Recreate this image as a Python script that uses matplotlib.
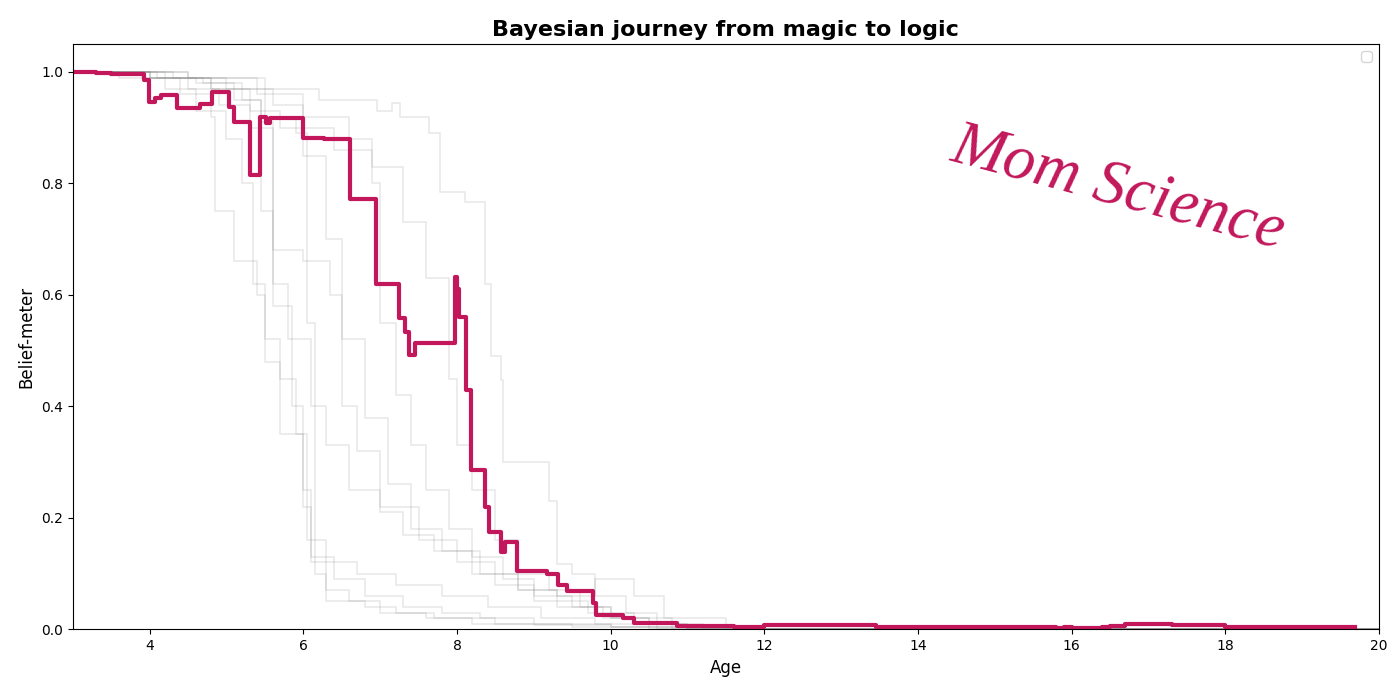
import matplotlib
matplotlib.use("Agg")
import matplotlib.pyplot as plt

# highlighted child (step path)
main_age = [3.0, 3.3, 3.5, 3.93, 3.99, 4.07, 4.15, 4.36, 4.66, 4.81, 5.03, 5.10, 5.31,
            5.43, 5.52, 5.57, 6.0, 6.27, 6.61, 6.94, 7.25, 7.32, 7.37, 7.46, 7.98, 8.0,
            8.02, 8.12, 8.18, 8.37, 8.42, 8.57, 8.63, 8.78, 9.17, 9.31, 9.43, 9.77, 9.81,
            10.16, 10.31, 10.87, 11.6, 12.0, 13.45, 15.8, 15.9, 16.0, 16.4, 16.5, 16.7,
            17.3, 18.0, 19.69]
main_belief = [1.0, 0.998, 0.996, 0.985, 0.947, 0.953, 0.958, 0.935, 0.942, 0.964, 0.937,
               0.91, 0.815, 0.92, 0.908, 0.917, 0.882, 0.88, 0.772, 0.619, 0.558, 0.533,
               0.492, 0.513, 0.632, 0.61, 0.56, 0.429, 0.285, 0.219, 0.174, 0.138, 0.156,
               0.104, 0.10, 0.079, 0.068, 0.048, 0.025, 0.02, 0.011, 0.006, 0.005, 0.008,
               0.005, 0.002, 0.005, 0.003, 0.005, 0.006, 0.01, 0.008, 0.005, 0.005]

# other children (gray)
other_ages = [
    [3, 3.6, 4.2, 4.6, 5.0, 5.2, 5.35, 5.5, 5.7, 5.9, 6.0, 6.1, 6.3, 6.6, 7.0, 7.6, 8.5, 9.5, 11, 20],
    [3, 4.0, 4.5, 4.9, 5.3, 5.45, 5.6, 5.85, 6.0, 6.1, 6.4, 6.8, 7.3, 7.8, 8.3, 9.0, 10, 11.2, 20],
    [3, 4.2, 4.8, 5.5, 5.9, 6.05, 6.15, 6.3, 6.8, 7.2, 7.7, 8.2, 9.0, 10.0, 11, 20],
    [3, 4.0, 4.6, 5.1, 5.45, 5.6, 5.8, 6.1, 6.3, 6.6, 7.0, 7.3, 7.7, 8.2, 8.8, 9.3, 9.8, 10.3,
     10.7, 11.5, 20],
    [3, 3.9, 4.4, 4.8, 4.85, 5.1, 5.4, 5.5, 5.7, 6.05, 6.3, 6.7, 7.2, 7.8, 8.4, 9.1, 9.8, 10.6, 20],
    [3, 4.3, 5.0, 5.6, 6.0, 6.4, 6.9, 7.0, 7.2, 7.4, 7.6, 7.9, 8.2, 8.6, 9.0, 9.5, 10.0, 10.8, 20],
    [3, 4.5, 5.5, 6.2, 6.96, 7.16, 7.26, 7.64, 7.78, 8.10, 8.36, 8.44, 8.57, 8.6, 9.2, 9.3,
     9.5, 9.8, 10.2, 10.6, 11.2, 20],
    [3, 4.5, 5.4, 6.0, 6.6, 6.9, 7.3, 7.6, 7.9, 8.0, 8.2, 8.5, 8.8, 9.2, 9.6, 10.0, 10.5, 11.0, 20],
    [3, 4.0, 4.8, 5.3, 5.7, 6.0, 6.3, 6.5, 6.8, 7.1, 7.4, 7.8, 8.3, 8.8, 9.3, 9.9, 10.5, 20],
    [3, 4.1, 4.7, 5.2, 5.45, 5.6, 6.0, 6.35, 6.5, 6.7, 7.0, 7.5, 8.0, 8.5, 9.0, 9.7, 10.3, 11.0, 20],
]
other_beliefs = [
    [1.0, 0.99, 0.97, 0.93, 0.88, 0.80, 0.62, 0.52, 0.45, 0.35, 0.22, 0.12, 0.07, 0.05, 0.03,
     0.02, 0.01, 0.005, 0.0, 0.0],
    [1.0, 0.99, 0.97, 0.94, 0.90, 0.75, 0.58, 0.40, 0.25, 0.13, 0.09, 0.06, 0.04, 0.03, 0.02,
     0.01, 0.005, 0.0, 0.0],
    [1.0, 0.99, 0.97, 0.92, 0.89, 0.55, 0.10, 0.05, 0.04, 0.03, 0.02, 0.01, 0.008, 0.004, 0.0, 0.0],
    [1.0, 0.99, 0.98, 0.95, 0.90, 0.62, 0.52, 0.40, 0.33, 0.25, 0.21, 0.17, 0.14, 0.10, 0.07,
     0.06, 0.09, 0.06, 0.02, 0.0, 0.0],
    [1.0, 0.99, 0.96, 0.92, 0.75, 0.66, 0.60, 0.48, 0.35, 0.16, 0.12, 0.10, 0.08, 0.06, 0.04,
     0.02, 0.01, 0.0, 0.0],
    [1.0, 0.99, 0.97, 0.94, 0.90, 0.86, 0.80, 0.55, 0.42, 0.33, 0.25, 0.18, 0.13, 0.09, 0.06,
     0.04, 0.02, 0.0, 0.0],
    [1.0, 0.99, 0.97, 0.95, 0.93, 0.945, 0.92, 0.89, 0.785, 0.767, 0.62, 0.49, 0.447, 0.30,
     0.23, 0.118, 0.10, 0.06, 0.03, 0.01, 0.0, 0.0],
    [1.0, 0.99, 0.96, 0.92, 0.88, 0.83, 0.73, 0.63, 0.45, 0.33, 0.25, 0.16, 0.10, 0.07, 0.04,
     0.02, 0.01, 0.0, 0.0],
    [1.0, 0.99, 0.97, 0.93, 0.90, 0.85, 0.70, 0.52, 0.38, 0.26, 0.18, 0.14, 0.10, 0.07, 0.04,
     0.02, 0.0, 0.0],
    [1.0, 0.99, 0.98, 0.95, 0.91, 0.68, 0.66, 0.60, 0.40, 0.32, 0.22, 0.16, 0.12, 0.08, 0.05,
     0.03, 0.01, 0.0, 0.0],
]

highlight = '#C2185B'

fig = plt.figure(figsize=(14, 7), dpi=100)
ax = fig.add_axes([0.052, 0.101, 0.933, 0.836])

for ages, beliefs in zip(other_ages, other_beliefs):
    ax.plot(ages, beliefs, drawstyle='steps-post', color='gray', alpha=0.18, lw=1.2)

ax.plot(main_age, main_belief, drawstyle='steps-post', color=highlight, lw=3)

ax.set_xlim(3, 20)
ax.set_ylim(0, 1.05)
ax.set_title('Bayesian journey from magic to logic', fontsize=16, fontweight='bold')
ax.set_xlabel('Age', fontsize=12)
ax.set_ylabel('Belief-meter', fontsize=12)
ax.legend()

ax.text(16.6, 0.79, 'Mom Science', color=highlight, fontsize=46,
        family='Liberation Serif', style='italic', rotation=-15,
        ha='center', va='center')

fig.savefig('out.png', dpi=100)
